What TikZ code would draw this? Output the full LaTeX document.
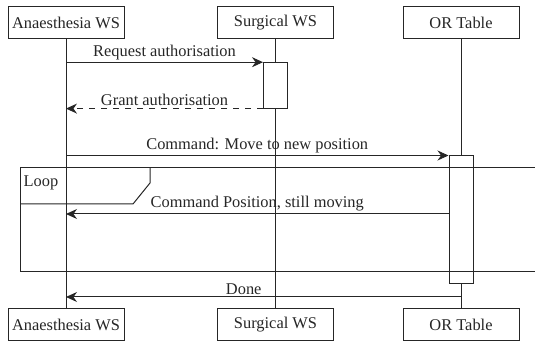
\documentclass[tikz,border=0pt]{standalone}
\usepackage{fontspec}
\setmainfont{Liberation Serif}
\usetikzlibrary{arrows.meta,positioning,calc}

\begin{document}
\begin{tikzpicture}[x=0.5pt,y=-0.5pt,line width=0.5pt,draw=black!85,text=black!85,
   font=\fontsize{8.2}{10}\selectfont,
   actor/.style={draw,fill=white,minimum width=58pt,minimum height=16pt,inner sep=0pt},
   act/.style={draw,fill=white,minimum width=12pt,inner sep=0pt},
   msg/.style={-{Stealth[length=5.5pt,width=5pt]}},
   reply/.style={msg,dashed},
   lbl/.style={above,inner sep=1pt}]
\useasboundingbox (0,0) rectangle (535,346);

% participants, top and bottom
\node[actor] (anaTop) at (66,23) {Anaesthesia WS};
\node[actor] (surTop) at (275.5,23) {Surgical WS};
\node[actor] (orTop) at (461,23) {OR Table};
\node[actor] (anaBot) at (66,324.5) {Anaesthesia WS};
\node[actor] (surBot) at (275.5,324.5) {Surgical WS};
\node[actor] (orBot) at (461,324.5) {OR Table};

% lifelines
\draw (anaTop) -- (anaBot);
\draw (surTop) -- (surBot);
\draw (orTop) -- (orBot);

% activations
\node[act,minimum height=22.7pt] (surAct) at (275.5,85.4) {};
\node[act,minimum height=64pt] (orAct) at (461,220) {};

% loop fragment
\draw (535,167.5) -- (20,167.5) -- (20,271.5) -- (535,271.5);
\draw (150,167.5) -- (150,183) -- (133,204) -- (20,204);
\node (loop) at (41,183) {Loop};

% messages
\coordinate (posMsg) at (orAct.west |- 0,214);
\coordinate (doneMsg) at (orTop |- 0,297);
\draw[msg] (anaTop |- surAct.north west) -- (surAct.north west)
   node[lbl,midway] {Request authorisation};
\draw[reply] (surAct.south west) -- (anaTop |- surAct.south west)
   node[lbl,midway] {Grant authorisation};
\draw[msg] (anaTop |- orAct.north west) -- (orAct.north west)
   node[lbl,midway] {Command: Move to new position};
\draw[msg] (posMsg) -- (anaTop |- posMsg)
   node[lbl,midway] {Command Position, still moving};
\draw[msg] (doneMsg) -- (anaTop |- doneMsg)
   node[lbl,pos=.55] {Done};
\end{tikzpicture}
\end{document}
